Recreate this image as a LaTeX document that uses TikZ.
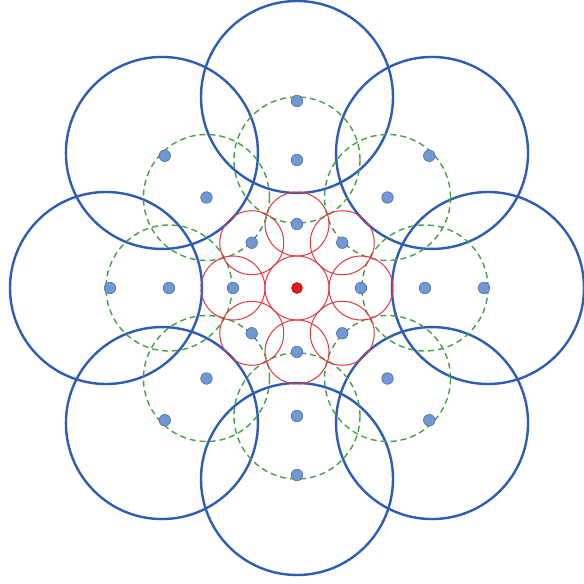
\documentclass[tikz,border=0pt]{standalone}
\begin{document}
\begin{tikzpicture}[x=1pt,y=1pt,
  bluering/.style={draw=blueline,line width=2.4pt},
  greenring/.style={draw=greenline,line width=1.4pt,dash pattern=on 6pt off 4pt},
  redring/.style={draw=redline,line width=1pt},
  bdot/.style={circle,fill=dotfill,draw=dotline,line width=0.6pt,inner sep=0pt,minimum size=11.5pt},
  rdot/.style={circle,fill=reddot,draw=red!60!black,line width=0.4pt,inner sep=0pt,minimum size=11pt}]
\definecolor{blueline}{HTML}{2F5DB3}
\definecolor{greenline}{HTML}{43A143}
\definecolor{redline}{HTML}{E23A3E}
\definecolor{reddot}{HTML}{E8141C}
\definecolor{dotfill}{HTML}{7097D6}
\definecolor{dotline}{HTML}{4E6C98}
\useasboundingbox (-297,-296) rectangle (287,288);
\fill[white] (-297,-296) rectangle (287,288);
% blue outer circles
\foreach \a in {0,45,...,315}
  \draw[bluering] (\a:191) circle (96pt);
% green dashed circles
\foreach \a in {0,45,...,315}
  \draw[greenring] (\a:128) circle (63pt);
% red circles
\draw[redring] (0,0) circle (32pt);
\foreach \a in {0,45,...,315}
  \draw[redring] (\a:64) circle (32pt);
% dots
\foreach \a in {0,45,...,315}{
  \node[bdot] (r\a) at (\a:64) {};
  \node[bdot] (g\a) at (\a:128) {};
  \node[bdot] (b\a) at (\a:187) {};
}
\node[rdot] (c) at (0,0) {};
\end{tikzpicture}
\end{document}
